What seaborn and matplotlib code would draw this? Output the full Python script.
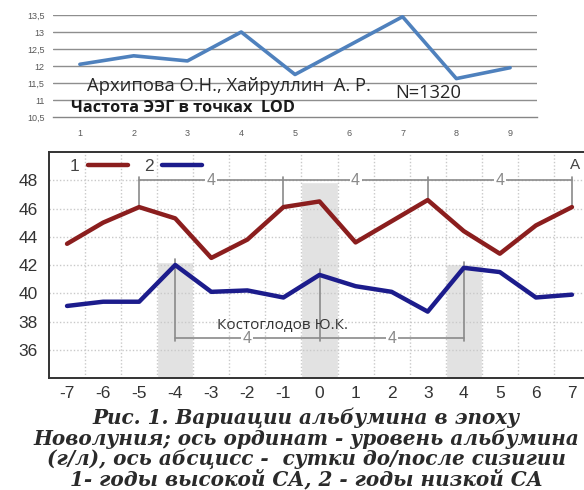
import numpy as np
import pandas as pd
import matplotlib
matplotlib.use("Agg")
import matplotlib.pyplot as plt
import seaborn as sns

# Top panel: EEG frequency at LOD points
lod_points = [1, 2, 3, 4, 5, 6, 7, 8, 9]
eeg_freq = [12.05, 12.3, 12.15, 13.0, 11.75, 12.6, 13.45, 11.63, 11.95]
eeg_yticks = [10.5, 11, 11.5, 12, 12.5, 13, 13.5]

# Bottom panel: albumin around new moon (1 - high SA years, 2 - low SA years)
days = list(range(-7, 8))
alb_high = [43.5, 45.0, 46.1, 45.3, 42.5, 43.8, 46.1, 46.5, 43.6, 45.1, 46.6, 44.4, 42.8, 44.8, 46.1]
alb_low = [39.1, 39.4, 39.4, 42.0, 40.1, 40.2, 39.7, 41.3, 40.5, 40.1, 38.7, 41.8, 41.5, 39.7, 39.9]
alb_yticks = [36, 38, 40, 42, 44, 46, 48]

# shaded days and 4-day period markers
shade_days = [-4, 0, 4]
shade_top = [42.2, 47.9, 42.1]
peaks_high = [-5, -1, 3, 7]
peaks_low = [-4, 0, 4]
period = 4

caption = [
    "Рис. 1. Вариации альбумина в эпоху",
    "Новолуния; ось ординат - уровень альбумина",
    "(г/л), ось абсцисс -  сутки до/после сизигии",
    "1- годы высокой СА, 2 - годы низкой СА",
]

sns.set_theme(style="white")
plt.rcParams["font.family"] = ["Liberation Sans", "DejaVu Sans"]
plt.rcParams["axes.unicode_minus"] = False

fig = plt.figure(figsize=(5.84, 4.90), dpi=100)
fig.patch.set_facecolor("white")

# ---------------- top chart ----------------
ax1 = fig.add_axes([53 / 584, 1 - 117 / 490, 484 / 584, 102 / 490])
for v in eeg_yticks[1:]:
    ax1.axhline(v, color="#8e8e8e", lw=1.0, zorder=0)
sns.lineplot(x=lod_points, y=eeg_freq, ax=ax1, color="#4f81bd", lw=2.6, zorder=3)
ax1.set_xlim(0.5, 9.5)
ax1.set_ylim(10.5, 13.5)
ax1.set_yticks(eeg_yticks)
ax1.set_yticklabels([f"{v:g}".replace(".", ",") for v in eeg_yticks])
ax1.set_xticks(lod_points)
ax1.set_xticks(np.arange(0.5, 9.6, 1), minor=True)
for s in ["top", "right", "left"]:
    ax1.spines[s].set_visible(False)
ax1.spines["bottom"].set_color("#868686")
ax1.spines["bottom"].set_linewidth(1.0)
ax1.tick_params(axis="y", length=0, labelsize=6.5, labelcolor="#595959", pad=6)
ax1.tick_params(axis="x", which="major", length=0, labelsize=6.5, labelcolor="#595959", pad=9)
ax1.tick_params(axis="x", which="minor", length=3, color="#868686", direction="out")
ax1.set_xlabel("")
ax1.set_ylabel("")
ax1.text(1.13, 11.41, "Архипова О.Н., Хайруллин  А. Р.", fontsize=13.2,
         family=["Open Sans", "DejaVu Sans"], color="#262626", va="center", ha="left")
ax1.text(6.86, 11.2, "N=1320", fontsize=13.2, family=["Open Sans", "DejaVu Sans"],
         color="#262626", va="center", ha="left")
ax1.text(0.83, 10.76, "Частота ЭЭГ в точках  LOD", fontsize=11.7, fontweight="bold",
         family=["Open Sans", "DejaVu Sans"], color="#1a1a1a", va="center", ha="left")

# ---------------- bottom chart ----------------
ax2 = fig.add_axes([49 / 584, 1 - 378 / 490, 541 / 584, 226 / 490])
ax2.bar(shade_days, [t - 34 for t in shade_top], bottom=34, width=1.0,
        color="#e2e2e2", zorder=0)

df = pd.DataFrame({
    "day": days * 2,
    "albumin": alb_high + alb_low,
    "group": ["1"] * len(days) + ["2"] * len(days),
})
sns.lineplot(data=df, x="day", y="albumin", hue="group", ax=ax2,
             palette={"1": "#8b1e1e", "2": "#1c1c8c"}, lw=3.2, zorder=4)
sns.move_legend(ax2, "upper left", bbox_to_anchor=(0.026, 1.0), ncol=2, title=None,
                frameon=False, markerfirst=False, handlelength=2.3, handletextpad=0.5,
                columnspacing=0.9, fontsize=12.5, borderaxespad=0)
for t in ax2.get_legend().get_texts():
    t.set_color("#444444")

ax2.set_xlim(-7.5, 7.5)
ax2.set_ylim(34, 50)
ax2.set_xticks(days)
ax2.set_xticks(np.arange(-6.5, 7.0, 1), minor=True)
ax2.set_yticks(alb_yticks)
ax2.grid(True, axis="y", which="major", color="#c9c9c9", lw=1.0, ls=(0, (1, 1.5)), zorder=1)
ax2.grid(True, axis="x", which="minor", color="#c9c9c9", lw=1.0, ls=(0, (1, 1.5)), zorder=1)
ax2.set_axisbelow(True)
for s in ["top", "bottom", "left"]:
    ax2.spines[s].set_color("#333333")
    ax2.spines[s].set_linewidth(1.4)
ax2.spines["right"].set_visible(False)
ax2.tick_params(axis="x", which="major", length=0, labelsize=12.5, labelcolor="#333333", pad=6)
ax2.tick_params(axis="x", which="minor", length=7, width=1.3, color="#333333", direction="inout")
ax2.tick_params(axis="y", length=6, width=1.3, color="#333333", direction="out",
                labelsize=12.5, labelcolor="#333333", pad=2)
ax2.set_xlabel("")
ax2.set_ylabel("")

# 4-day period brackets
gray = "#8a8a8a"
hi = dict(zip(days, alb_high))
lo = dict(zip(days, alb_low))
ax2.plot([peaks_high[0], peaks_high[-1]], [48.0, 48.0], color=gray, lw=1.2, zorder=2)
for d in peaks_high:
    ax2.plot([d, d], [48.2, hi[d]], color=gray, lw=1.2, zorder=2)
for a, b in zip(peaks_high[:-1], peaks_high[1:]):
    ax2.text((a + b) / 2, 48.0, str(period), ha="center", va="center", fontsize=11.5,
             color=gray, zorder=3, bbox=dict(fc="white", ec="none", pad=1.0))
ax2.plot([peaks_low[0], peaks_low[-1]], [36.8, 36.8], color=gray, lw=1.2, zorder=2)
for d in peaks_low:
    ax2.plot([d, d], [lo[d] + 0.4, 36.6], color=gray, lw=1.2, zorder=2)
for a, b in zip(peaks_low[:-1], peaks_low[1:]):
    ax2.text((a + b) / 2, 36.8, str(period), ha="center", va="center", fontsize=11.5,
             color=gray, zorder=3, bbox=dict(fc="white", ec="none", pad=1.0))

ax2.text(7.08, 49.05, "А", ha="center", va="center", fontsize=11, color="#444444")
ax2.text(-2.84, 37.75, "Костоглодов Ю.К.", ha="left", va="center", fontsize=11,
         family=["Open Sans", "DejaVu Sans"], color="#333333", zorder=5)

# caption
for i, line in enumerate(caption):
    fig.text(306 / 584, 1 - (418 + 20.3 * i) / 490, line, ha="center", va="center",
             fontsize=14.4, style="italic", fontweight="bold",
             family=["DejaVu Serif"], color="#2a2a2a")

fig.savefig("out.png", dpi=100, facecolor="white")
